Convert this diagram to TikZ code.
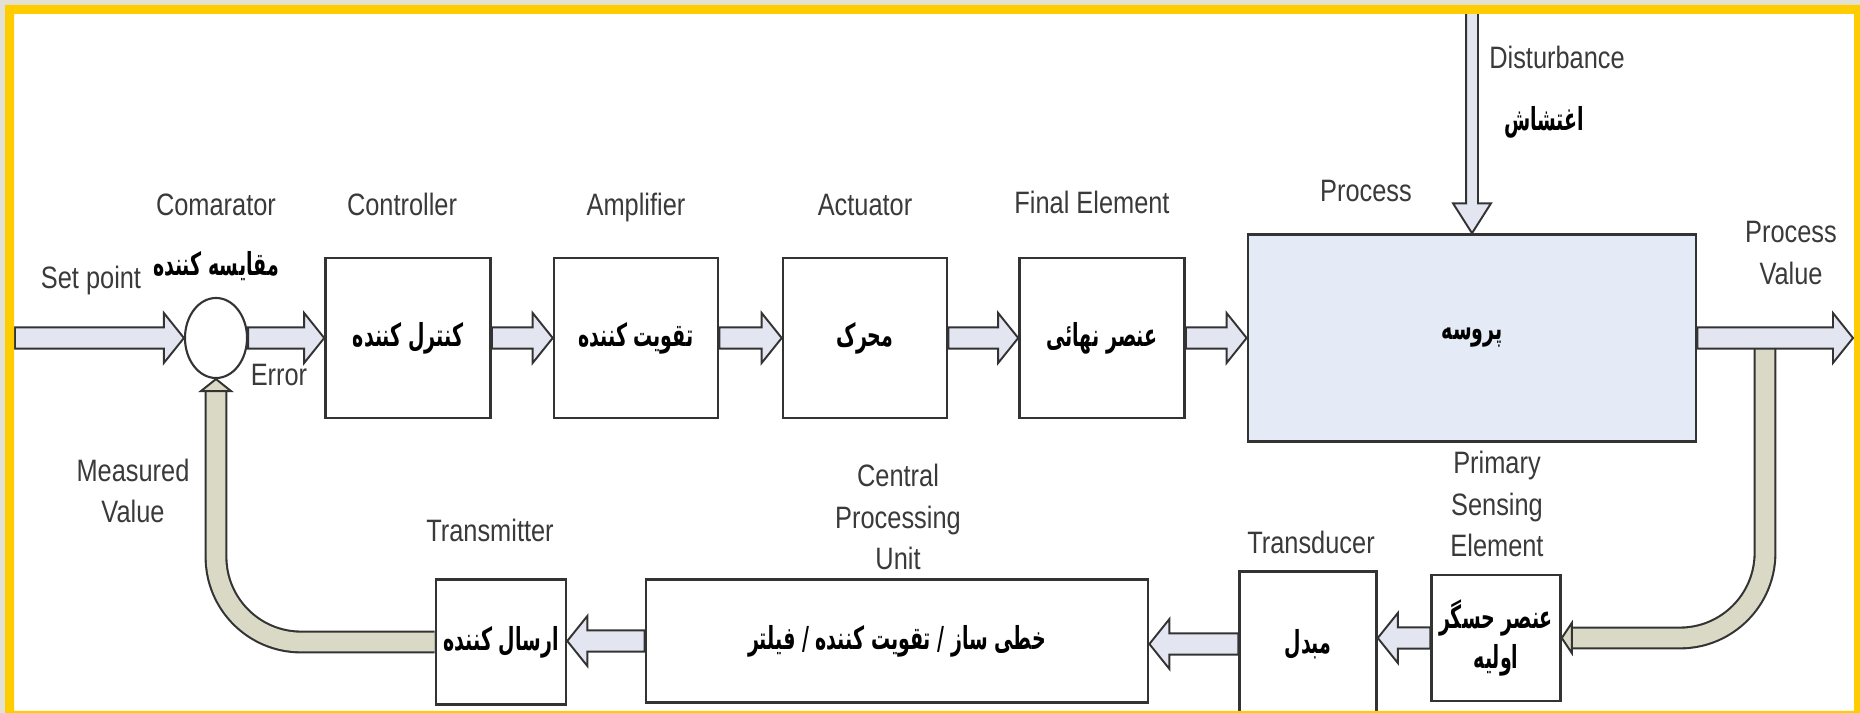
\documentclass[tikz,border=0pt]{standalone}
\usepackage{fontspec}
\setmainfont{Liberation Sans}[FakeStretch=0.82]
\newfontfamily\persianfont[Script=Arabic, FakeStretch=0.6]{DejaVu Sans}
\TeXXeTstate=1
\usetikzlibrary{calc, shapes.geometric}
\definecolor{Frame}{HTML}{FFCC00}
\definecolor{Strip}{HTML}{E3E1D3}
\definecolor{Edge}{HTML}{333333}
\definecolor{Shaft}{HTML}{E3E6F1}
\definecolor{Tube}{HTML}{D9D9C5}
\definecolor{ProcFill}{HTML}{E5EBF6}
\definecolor{Label}{HTML}{3A3A3A}

% persian text, right to left
\newcommand{\fatext}[1]{\beginR #1\endR}

% hollow block arrow, left or right
\newcommand{\hflow}[2]{%
  \draw[flow] let \p1=(#1), \p2=(#2), \n1={(\x2>\x1)*2-1} in
    (\x1,\y1+3pt) -- (\x2-\n1*5.7pt,\y1+3pt) -- (\x2-\n1*5.7pt,\y1+7.1pt)
    -- (\x2,\y1) -- (\x2-\n1*5.7pt,\y1-7.1pt) -- (\x2-\n1*5.7pt,\y1-3pt)
    -- (\x1,\y1-3pt) -- cycle;}
% hollow block arrow, downwards
\newcommand{\vflow}[2]{%
  \draw[flow] let \p1=(#1), \p2=(#2) in
    (\x1-1.7pt,\y1) -- (\x1-1.7pt,\y2+8.5pt) -- (\x1-5.4pt,\y2+8.5pt)
    -- (\x1,\y2) -- (\x1+5.4pt,\y2+8.5pt) -- (\x1+1.7pt,\y2+8.5pt)
    -- (\x1+1.7pt,\y1) -- cycle;}

\begin{document}
\begin{tikzpicture}[x=0.01cm, y=-0.01cm,
    blk/.style={draw=Edge, line width=0.7pt, fill=white, inner sep=0pt,
      minimum height=1.6cm, align=center,
      font=\persianfont\bfseries\fontsize{9}{11.5}\selectfont},
    lbl/.style={text=Label, inner sep=0pt, text height=6.5pt, text depth=1.8pt,
      font=\fontsize{8.8}{11.7}\selectfont},
    lbls/.style={text=Label, align=center, inner sep=0pt,
      font=\fontsize{8.8}{11.7}\selectfont},
    falbl/.style={inner sep=0pt, font=\persianfont\bfseries\fontsize{9}{11.5}\selectfont},
    flow/.style={draw=Edge, line width=0.55pt, fill=Shaft, line join=miter},
    tube/.style={draw=Edge, line width=0.6pt, double=Tube, double distance=5.3pt,
      rounded corners=0.85cm},
    tubehead/.style={draw=Edge, line width=0.55pt, fill=Tube}]
  \useasboundingbox (0,0) rectangle (1860,713);
  \fill[white] (0,0) rectangle (1860,713);

  % forward path
  \node[ellipse, draw=Edge, line width=0.6pt, fill=white, inner sep=0pt,
    minimum width=0.62cm, minimum height=0.8cm] (cmp) at (216,338) {};
  \node[blk, minimum width=1.65cm] (ctrl) at (408,338) {\fatext{کنترل کننده}};
  \node[blk, minimum width=1.64cm] (amp) at (636,338) {\fatext{تقویت کننده}};
  \node[blk, minimum width=1.64cm] (act) at (865,338) {\fatext{محرک}};
  \node[blk, minimum width=1.65cm] (fin) at (1102,338) {\fatext{عنصر نهائی}};
  \node[blk, fill=ProcFill, minimum width=4.48cm, minimum height=2.07cm] (proc)
    at (1472,338) {\fatext{پروسه}};

  % feedback path
  \node[blk, minimum width=1.29cm, minimum height=1.26cm] (prim) at (1496,638)
    {\fatext{عنصر حسگر}\\\fatext{اولیه}};
  \node[blk, minimum width=1.37cm, minimum height=1.45cm] (trans) at (1308,644)
    {\fatext{مبدل}};
  \node[blk, minimum width=5.02cm, minimum height=1.23cm] (cpu) at (897,641)
    {\fatext{خطی ساز / تقویت کننده / فیلتر}};
  \node[blk, minimum width=1.30cm, minimum height=1.25cm] (trm) at (501,642)
    {\fatext{ارسال کننده}};

  \coordinate (sp) at (15,338);
  \coordinate (pv) at (1853,338);
  \coordinate (dist) at (1472,8);
  \coordinate (tap) at (1765,348);

  % tubes of the measured signal
  \draw[tube] (tap) |- ([xshift=0.1cm]prim.east);
  \draw[tubehead] (prim.east) -- ++(10,-15) -- ++(0,30) -- cycle;
  \draw[tube] (trm.west) -| ([yshift=-0.12cm]cmp.south);
  \draw[tubehead] (cmp.south) -- ++(15,12) -- ++(-30,0) -- cycle;

  \hflow{sp}{cmp.west}
  \hflow{cmp.east}{ctrl.west}
  \hflow{ctrl.east}{amp.west}
  \hflow{amp.east}{act.west}
  \hflow{act.east}{fin.west}
  \hflow{fin.east}{proc.west}
  \hflow{proc.east}{pv}
  \vflow{dist}{proc.north}
  \hflow{prim.west}{trans.east}
  \hflow{trans.west}{cpu.east}
  \hflow{cpu.west}{trm.east}

  % labels
  \node[lbl] (l-sp) at (91,280) {Set point};
  \node[falbl] (l-cmpfa) at (216,266) {\fatext{مقایسه کننده}};
  \node[lbl] (l-cmp) at (216,207) {Comarator};
  \node[lbl] (l-err) at (279,377) {Error};
  \node[lbl] (l-ctrl) at (402,207) {Controller};
  \node[lbl] (l-amp) at (636,207) {Amplifier};
  \node[lbl] (l-act) at (865,207) {Actuator};
  \node[lbl] (l-fin) at (1092,205) {Final Element};
  \node[lbl] (l-proc) at (1366,193) {Process};
  \node[lbl] (l-dist) at (1557,60) {Disturbance};
  \node[falbl] (l-distfa) at (1544,122) {\fatext{اغتشاش}};
  \node[lbls] (l-pv) at (1791,253) {Process\\Value};
  \node[lbls] (l-mv) at (133,491) {Measured\\Value};
  \node[lbl] (l-trm) at (490,533) {Transmitter};
  \node[lbls] (l-cpu) at (898,517) {Central\\Processing\\Unit};
  \node[lbl] (l-trans) at (1311,545) {Transducer};
  \node[lbls] (l-prim) at (1497,504) {Primary\\Sensing\\Element};

  % yellow frame
  \fill[Strip, even odd rule] (0,0) rectangle (1860,713) (5,5) rectangle (1860,713);
  \fill[Frame, even odd rule] (5,5) rectangle (1860,713) (14,14) rectangle (1854,711);
\end{tikzpicture}
\end{document}
